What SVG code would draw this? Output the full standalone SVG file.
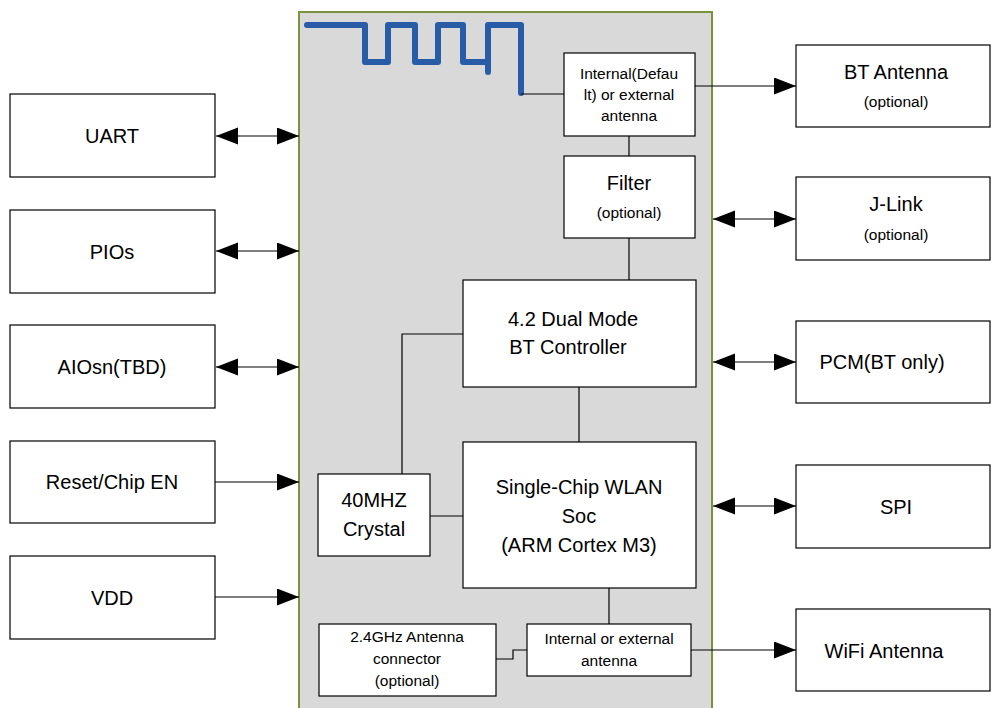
<svg xmlns="http://www.w3.org/2000/svg" width="992" height="708" viewBox="0 0 992 708">
<style>
.box{fill:#fff;stroke:#000;stroke-width:1.2}
.ln{fill:none;stroke:#000;stroke-width:1.2}
.t{font-family:"Liberation Sans",Arial,sans-serif;fill:#000;text-anchor:middle}
.l{font-size:20px}
.s{font-size:15.5px}
</style>
<defs>
<marker id="ah" markerUnits="userSpaceOnUse" markerWidth="24" markerHeight="18" refX="22" refY="8.5" orient="auto-start-reverse">
<path d="M0,0 L22,8.5 L0,17 Z" fill="#000"/>
</marker>
</defs>
<rect width="992" height="708" fill="#fff"/>
<g id="module">
<rect x="299" y="12" width="413" height="710" fill="#d9d9d9" stroke="#77933c" stroke-width="2"/>
<path d="M307,25 H365 V62 H388 V25 H415 V62 H438 V25 H463 V62 H488 V25 H521 V93 M488,62 V72" fill="none" stroke="#295ca7" stroke-width="6" stroke-linecap="round" stroke-linejoin="round"/>
</g>
<g id="connectors">
<line class="ln" x1="521" y1="94" x2="564" y2="94"/>
<line class="ln" x1="629" y1="136" x2="629" y2="156"/>
<line class="ln" x1="629" y1="238" x2="629" y2="280"/>
<line class="ln" x1="579" y1="387" x2="579" y2="442"/>
<polyline class="ln" points="402,474 402,334 463,334"/>
<line class="ln" x1="430" y1="516" x2="463" y2="516"/>
<line class="ln" x1="609" y1="588" x2="609" y2="624"/>
<polyline class="ln" points="496,659 513,659 513,650 527,650"/>
<line class="ln" x1="695" y1="86" x2="796" y2="86" marker-end="url(#ah)"/>
<line class="ln" x1="713" y1="219" x2="796" y2="219" marker-start="url(#ah)" marker-end="url(#ah)"/>
<line class="ln" x1="713" y1="362" x2="796" y2="362" marker-start="url(#ah)" marker-end="url(#ah)"/>
<line class="ln" x1="713" y1="506" x2="796" y2="506" marker-start="url(#ah)" marker-end="url(#ah)"/>
<line class="ln" x1="691" y1="650" x2="796" y2="650" marker-end="url(#ah)"/>
<line class="ln" x1="216" y1="136" x2="299" y2="136" marker-start="url(#ah)" marker-end="url(#ah)"/>
<line class="ln" x1="216" y1="251" x2="299" y2="251" marker-start="url(#ah)" marker-end="url(#ah)"/>
<line class="ln" x1="216" y1="367" x2="299" y2="367" marker-start="url(#ah)" marker-end="url(#ah)"/>
<line class="ln" x1="215" y1="482" x2="299" y2="482" marker-end="url(#ah)"/>
<line class="ln" x1="215" y1="597" x2="299" y2="597" marker-end="url(#ah)"/>
</g>
<g id="uart"><rect class="box" x="10" y="94" width="205" height="83"/><text class="t l" x="112" y="143">UART</text></g>
<g id="pios"><rect class="box" x="10" y="210" width="205" height="83"/><text class="t l" x="112" y="259">PIOs</text></g>
<g id="aiosn"><rect class="box" x="10" y="325" width="205" height="83"/><text class="t l" x="112" y="374">AIOsn(TBD)</text></g>
<g id="reset"><rect class="box" x="10" y="441" width="205" height="82"/><text class="t l" x="112" y="489">Reset/Chip EN</text></g>
<g id="vdd"><rect class="box" x="10" y="556" width="205" height="83"/><text class="t l" x="112" y="605">VDD</text></g>
<g id="int-ant-bt"><rect class="box" x="564" y="53" width="131" height="83"/>
<text class="t s" x="629" y="79">Internal(Defau</text><text class="t s" x="629" y="100">lt) or external</text><text class="t s" x="629" y="121">antenna</text></g>
<g id="filter"><rect class="box" x="564" y="156" width="131" height="82"/><text class="t l" x="629" y="190">Filter</text><text class="t s" x="629" y="218">(optional)</text></g>
<g id="bt"><rect class="box" x="463" y="280" width="233" height="107"/><text class="t l" x="573" y="326">4.2 Dual Mode</text><text class="t l" x="568" y="354">BT Controller</text></g>
<g id="wlan"><rect class="box" x="463" y="442" width="233" height="146"/><text class="t l" x="579" y="494">Single-Chip WLAN</text><text class="t l" x="579" y="523">Soc</text><text class="t l" x="579" y="552">(ARM Cortex M3)</text></g>
<g id="crystal"><rect class="box" x="318" y="474" width="112" height="82"/><text class="t l" x="374" y="507">40MHZ</text><text class="t l" x="374" y="536">Crystal</text></g>
<g id="conn24"><rect class="box" x="319" y="624" width="177" height="72"/><text class="t s" x="407" y="642">2.4GHz Antenna</text><text class="t s" x="407" y="664">connector</text><text class="t s" x="407" y="686">(optional)</text></g>
<g id="int-ant-wifi"><rect class="box" x="527" y="624" width="164" height="52"/><text class="t s" x="609" y="644">Internal or external</text><text class="t s" x="609" y="666">antenna</text></g>
<g id="btant"><rect class="box" x="796" y="45" width="194" height="82"/><text class="t l" x="896" y="79">BT Antenna</text><text class="t s" x="896" y="107">(optional)</text></g>
<g id="jlink"><rect class="box" x="796" y="177" width="194" height="83"/><text class="t l" x="896" y="211">J-Link</text><text class="t s" x="896" y="240">(optional)</text></g>
<g id="pcm"><rect class="box" x="796" y="321" width="194" height="82"/><text class="t l" x="882" y="369">PCM(BT only)</text></g>
<g id="spi"><rect class="box" x="796" y="465" width="194" height="83"/><text class="t l" x="896" y="514">SPI</text></g>
<g id="wifiant"><rect class="box" x="796" y="609" width="194" height="82"/><text class="t l" x="884" y="658">WiFi Antenna</text></g>
</svg>
